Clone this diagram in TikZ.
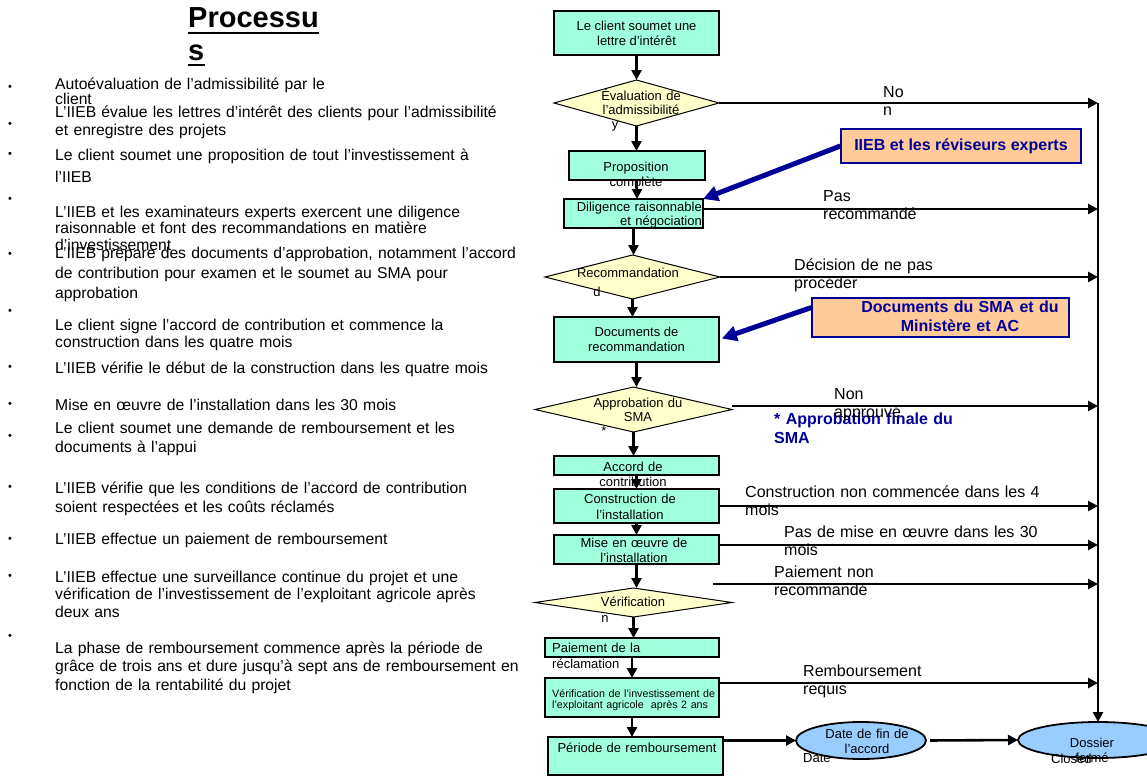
\documentclass[tikz,border=0pt]{standalone}
\usepackage{fontspec}
\setmainfont{Liberation Sans}
\usetikzlibrary{arrows.meta,shapes.geometric}
\definecolor{boxvert}{RGB}{160,255,220}
\definecolor{losange}{RGB}{255,255,204}
\definecolor{peche}{RGB}{255,204,153}
\definecolor{bleuclair}{RGB}{153,204,255}
\definecolor{bleufonce}{RGB}{0,0,153}

\begin{document}
\begin{tikzpicture}[x=1pt, y=-1pt, >={Triangle[length=10pt,width=10pt]},
  boite/.style={draw, line width=1.2pt, fill=boxvert, inner sep=0pt, outer sep=0pt,
            align=center, font=\fontsize{13}{15}\selectfont},
  los/.style={diamond, draw, line width=1pt, fill=losange, inner sep=0pt, outer sep=0pt},
  ell/.style={ellipse, draw, line width=1.8pt, fill=bleuclair, inner sep=0pt, outer sep=0pt},
  bulle/.style={draw=bleufonce, line width=1.2pt, fill=peche, inner sep=0pt, align=center,
            text=bleufonce, font=\bfseries\fontsize{16}{19}\selectfont},
  txt/.style={inner sep=0pt, anchor=base, align=center, text width=#1,
            font=\fontsize{13}{15}\selectfont},
  txt/.default=180,
  lbl/.style={inner sep=0pt, anchor=base west, align=left, text width=330,
            font=\fontsize{16}{18.5}\selectfont},
  liste/.style={inner sep=0pt, anchor=base west, align=left, text width=500},
  puce/.style={inner sep=0pt, font=\fontsize{11}{11}\selectfont},
  fl/.style={->, line width=2.6pt},
  fb/.style={-{Triangle[length=15pt,width=15pt]}, line width=5pt, bleufonce}]

\useasboundingbox (0,0) rectangle (1147,776);

% --- titre ---
\node[anchor=base west, inner sep=0pt, font=\bfseries\fontsize{29}{32}\selectfont] (titre) at (188,28) {Processu};
\node[anchor=base west, inner sep=0pt, font=\bfseries\fontsize{29}{32}\selectfont] (titre2) at (188,60) {s};
\draw[line width=2.2pt] ([yshift=-5pt]titre.base west) -- ([yshift=-5pt]titre.base east);
\draw[line width=2.2pt] ([yshift=-5pt]titre2.base west) -- ([yshift=-5pt]titre2.base east);

% --- liste a gauche ---
\foreach \n/\y in {1/88,2/125,3/155,4/200,5/255,6/312,7/368,8/405,9/437,10/488,11/540,12/577,13/637}{
  \node[puce] (b\n) at (10,\y) {•};
}
\foreach \n/\y/\pas/\txt in {
  1/89/15/{Autoévaluation de l’admissibilité par le\\client},
  2/117/18/{L’IIEB évalue les lettres d’intérêt des clients pour l’admissibilité\\et enregistre des projets},
  3/160/22/{Le client soumet une proposition de tout l’investissement à\\l’IIEB},
  4/217/16.5/{L’IIEB et les examinateurs experts exercent une diligence\\raisonnable et font des recommandations en matière\\d’investissement},
  5/258/20/{L’IIEB prépare des documents d’approbation, notamment l’accord\\de contribution pour examen et le soumet au SMA pour\\approbation},
  6/330/17/{Le client signe l’accord de contribution et commence la\\construction dans les quatre mois},
  7/373/18/{L’IIEB vérifie le début de la construction dans les quatre mois},
  8/410/18/{Mise en œuvre de l’installation dans les 30 mois},
  9/433/19/{Le client soumet une demande de remboursement et les\\documents à l’appui},
  10/493/19/{L’IIEB vérifie que les conditions de l’accord de contribution\\soient respectées et les coûts réclamés},
  11/544/18/{L’IIEB effectue un paiement de remboursement},
  12/582/17.5/{L’IIEB effectue une surveillance continue du projet et une\\vérification de l’investissement de l’exploitant agricole après\\deux ans},
  13/653/18.5/{La phase de remboursement commence après la période de\\grâce de trois ans et dure jusqu’à sept ans de remboursement en\\fonction de la rentabilité du projet}}{
  \node[liste, font=\fontsize{15.7}{\pas}\selectfont] (l\n) at (55,\y) {\txt};
}

% --- colonne du processus ---
\node[boite, minimum width=165, minimum height=44] (lettre) at (636.5,33) {Le client soumet une\\lettre d’intérêt};

\node[los, minimum width=165, minimum height=46] (eval) at (636.5,103) {};
\node[txt, font=\fontsize{13}{14}\selectfont] (evalt) at (641,100) {Évaluation de\\l’admissibilité};
\node[txt] (evaly) at (615,128) {y};

\node[boite, minimum width=136, minimum height=29] (prop) at (637,165.5) {};
\node[txt] (propt) at (636,171) {Proposition\\complète};

\node[boite, minimum width=139, minimum height=29] (dilig) at (633.5,213.5) {};
\node[txt=140, anchor=base east, align=right, font=\fontsize{13}{14}\selectfont] (diligt) at (702,211) {Diligence raisonnable\\et négociation};

\node[los, minimum width=175, minimum height=44] (recom) at (632.5,277) {};
\node[txt] (recomt) at (628,277) {Recommandation};
\node[txt] (recomd) at (597,296) {d};

\node[boite, minimum width=165, minimum height=45] (docs) at (636.5,339.5) {Documents de\\recommandation};

\node[los, minimum width=197, minimum height=45] (approb) at (633.5,409.5) {};
\node[txt, font=\fontsize{13}{14}\selectfont] (approbt) at (638,407) {Approbation du\\SMA};
\node[txt] (approbe) at (604,435) {*};

\node[boite, minimum width=165, minimum height=19] (accord) at (636.5,465.5) {};
\node[txt] (accordt) at (633,471) {Accord de\\contribution};

\node[boite, minimum width=165, minimum height=34] (constr) at (636.5,506) {};
\node[txt, font=\fontsize{13}{16}\selectfont] (constrt) at (630,503) {Construction de\\l’installation};

\node[boite, minimum width=165, minimum height=29] (mise) at (636.5,549.5) {};
\node[txt] (miset) at (634,547) {Mise en œuvre de\\l’installation};

\node[los, minimum width=197, minimum height=29] (verif) at (633.5,602.5) {};
\node[txt] (veriftxt) at (633,606) {Vérification};
\node[txt] (verifn) at (605,622) {n};

\node[boite, minimum width=174, minimum height=19] (paie) at (632,647.5) {};
\node[txt=170, anchor=base west, align=left, font=\fontsize{13}{16}\selectfont] (paiet) at (552,652) {Paiement de la\\réclamation};

\node[boite, minimum width=174, minimum height=39] (verinv) at (632,697.5) {};
\node[txt=170, anchor=base west, align=left, font=\fontsize{10.7}{11.5}\selectfont] (verinvt) at (552,697) {Vérification de l’investissement de\\l’exploitant agricole~ après 2 ans};

\node[boite, minimum width=175, minimum height=38] (periode) at (635.5,756) {};
\node[txt] (periodet) at (637,752) {Période de remboursement};

% --- fin de l'accord ---
\node[ell, minimum width=130, minimum height=37] (datefin) at (861,740.5) {};
\node[txt] (datefint) at (867,738) {Date de fin de\\l’accord};
\node[txt=60, anchor=base west, align=left] (datet) at (803,762) {Date};
\node[ell, minimum width=160, minimum height=36] (dossier) at (1098,740) {};
\node[txt=60, anchor=base west, align=left] (clost) at (1051,763) {Closed};
\node[txt] (dossiert) at (1092,747) {Dossier\\fermé};

% --- bulles bleues ---
\node[bulle, minimum width=240, minimum height=34] (iieb) at (961,146) {IIEB et les réviseurs experts};
\node[bulle, minimum width=257, minimum height=39] (docsma) at (940.5,317.5) {};
\node[txt=260, text=bleufonce, font=\bfseries\fontsize{16}{19}\selectfont] (docsmat) at (960,312) {Documents du SMA et du\\Ministère et AC};
\node[lbl, text=bleufonce, font=\bfseries\fontsize{16}{19}\selectfont] (finale) at (774,424) {* Approbation finale du\\SMA};

% --- libelles des sorties ---
\node[lbl] (non1) at (883,97) {No\\n};
\node[lbl] (pasrec) at (823,201) {Pas\\recommandé};
\node[lbl] (decis) at (794,270) {Décision de ne pas\\procéder};
\node[lbl] (nonapp) at (834,399) {Non\\approuvé};
\node[lbl] (nonconst) at (745,497) {Construction non commencée dans les 4\\mois};
\node[lbl] (pasmise) at (784,537) {Pas de mise en œuvre dans les 30\\mois};
\node[lbl] (paienon) at (774,577) {Paiement non\\recommandé};
\node[lbl] (rembreq) at (803,676) {Remboursement\\requis};

% --- fleches ---
\foreach \a/\b in {lettre/eval, eval/prop, prop/dilig, dilig/recom, recom/docs, docs/approb,
                   approb/accord, accord/constr, constr/mise, mise/verif, verif/paie,
                   paie/verinv, verinv/periode}{
  \draw[fl] (\a.south) -- (\a.south |- \b.north);
}

\coordinate (r1) at (1098,103);
\coordinate (r2) at (1098,209);
\coordinate (r3) at (1098,277);
\coordinate (r4) at (1098,406);
\coordinate (r5) at (1098,506);
\coordinate (r6) at (1098,545);
\coordinate (r7) at (1098,584);
\coordinate (r8) at (1098,683);
\coordinate (p7) at (713,584);

\draw[fl] (eval.east) -- (r1);
\draw[fl] (dilig.east |- r2) -- (r2);
\draw[fl] (recom.east) -- (r3);
\draw[fl] (approb.east |- r4) -- (r4);
\draw[fl] (constr.east) -- (r5);
\draw[fl] (mise.east |- r6) -- (r6);
\draw[fl] (p7) -- (r7);
\draw[fl] (verinv.east |- r8) -- (r8);
\draw[fl, line width=2.8pt] (r1) -- (dossier.north);

\draw[fl] (periode.east |- datefin.west) -- (datefin.west);
\draw[fl, shorten <=4pt] (datefin.east) -- (dossier.west);

\draw[fb] (iieb.west) -- (dilig.north east);
\draw[fb, shorten >=3pt] ([yshift=10pt]docsma.west) -- (docs.east);
\end{tikzpicture}
\end{document}
